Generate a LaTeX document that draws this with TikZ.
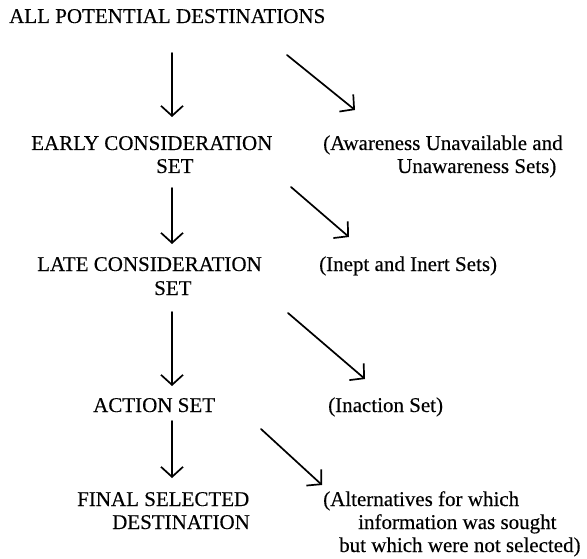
\documentclass[tikz,border=0pt]{standalone}
\usepackage{fontspec}
\setmainfont{Liberation Serif}[UprightFeatures={FakeBold=0.3}]
\usetikzlibrary{arrows.meta}
\begin{document}
\begin{tikzpicture}[x=1pt,y=-1pt,
  lbl/.style={anchor=base west, inner sep=0pt, font=\fontsize{21}{25}\selectfont},
  flow/.style={line width=1.7pt, line cap=round,
    -{Straight Barb[length=10pt,width=22pt,line width=1.7pt]}}]
\useasboundingbox (0,0) rectangle (587,559);

% stages of the funnel
\node[lbl] (all)      at (9,23)    {ALL POTENTIAL DESTINATIONS};
\node[lbl] (early)    at (31,150)  {EARLY CONSIDERATION};
\node[lbl] (earlyset) at (156,173) {SET};
\node[lbl] (late)     at (37,271)  {LATE CONSIDERATION};
\node[lbl] (lateset)  at (154,295) {SET};
\node[lbl] (action)   at (93,412)  {ACTION SET};
\node[lbl] (final)    at (77,506)  {FINAL SELECTED};
\node[lbl] (finalb)   at (112,529) {DESTINATION};

% sets dropped at each stage
\node[lbl] (aware)    at (323,150) {(Awareness Unavailable and};
\node[lbl] (awareb)   at (397,173) {Unawareness Sets)};
\node[lbl] (inept)    at (319,271) {(Inept and Inert Sets)};
\node[lbl] (inaction) at (328,412) {(Inaction Set)};
\node[lbl] (alt)      at (323,506) {(Alternatives for which};
\node[lbl] (altb)     at (358,529) {information was sought};
\node[lbl] (altc)     at (339,552) {but which were not selected)};

% arrow end points
\coordinate (v1s) at (172,53);  \coordinate (v1e) at (172,117);
\coordinate (v2s) at (172,188); \coordinate (v2e) at (172,244);
\coordinate (v3s) at (172,312); \coordinate (v3e) at (172,386);
\coordinate (v4s) at (172,421); \coordinate (v4e) at (172,478);
\coordinate (d1s) at (287,55);  \coordinate (d1e) at (355,110);
\coordinate (d2s) at (291,187); \coordinate (d2e) at (349,237);
\coordinate (d3s) at (288,313); \coordinate (d3e) at (365,379);
\coordinate (d4s) at (261,429); \coordinate (d4e) at (322,485);

\draw[flow] (v1s) -- (v1e);
\draw[flow] (v2s) -- (v2e);
\draw[flow] (v3s) -- (v3e);
\draw[flow] (v4s) -- (v4e);
\draw[flow] (d1s) -- (d1e);
\draw[flow] (d2s) -- (d2e);
\draw[flow] (d3s) -- (d3e);
\draw[flow] (d4s) -- (d4e);
\end{tikzpicture}
\end{document}
